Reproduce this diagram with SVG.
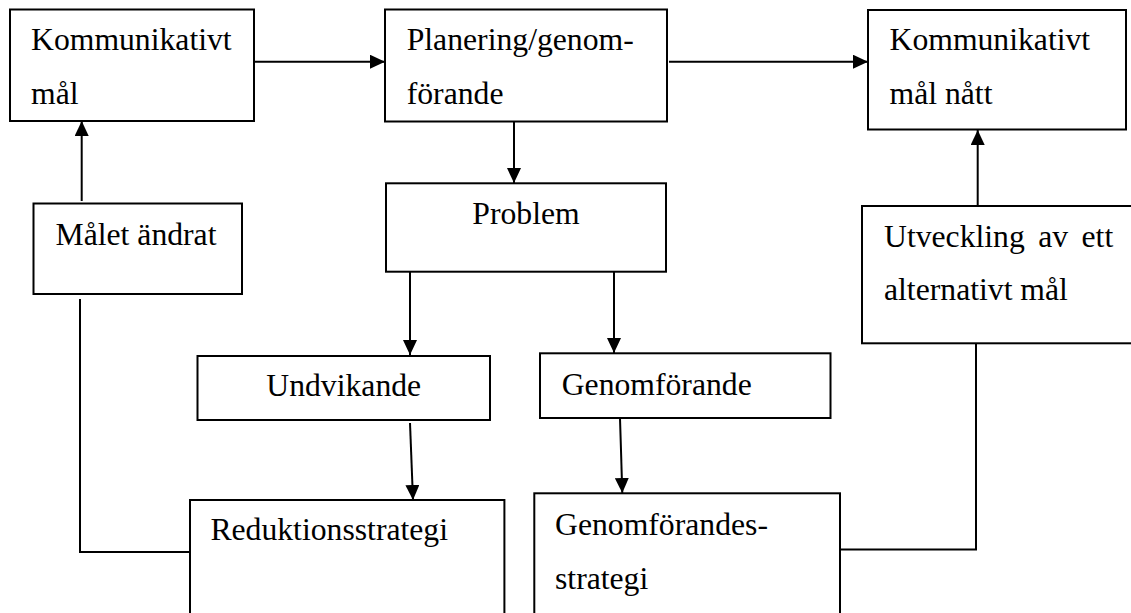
<svg xmlns="http://www.w3.org/2000/svg" width="1131" height="613" viewBox="0 0 1131 613">
<style>
.box{fill:#fff;stroke:#000;stroke-width:2}
.t{font-family:"Liberation Serif","Times New Roman",serif;font-size:31.7px;fill:#000}
.c{text-anchor:middle}
.ln{fill:none;stroke:#000;stroke-width:2}
.ar{marker-end:url(#ah)}
</style>
<defs>
<marker id="ah" markerUnits="userSpaceOnUse" markerWidth="15" markerHeight="14" refX="15" refY="7" orient="auto">
<path d="M0,0 L15,7 L0,14 z" fill="#000"/>
</marker>
</defs>
<rect width="1131" height="613" fill="#fff"/>
<g id="connectors">
<line class="ln ar" x1="254" y1="61.7" x2="385" y2="61.7"/>
<line class="ln ar" x1="669" y1="61.7" x2="868" y2="61.7"/>
<line class="ln ar" x1="514" y1="122" x2="514" y2="183"/>
<line class="ln ar" x1="81.7" y1="201" x2="81.7" y2="121"/>
<line class="ln ar" x1="977.7" y1="206" x2="977.7" y2="130"/>
<line class="ln ar" x1="410" y1="269" x2="410" y2="355"/>
<line class="ln ar" x1="614" y1="269" x2="614" y2="353"/>
<line class="ln ar" x1="410" y1="423" x2="413" y2="500"/>
<line class="ln ar" x1="620" y1="418" x2="622.3" y2="493"/>
<polyline class="ln" points="190,552 80,552 80,299"/>
<polyline class="ln" points="840,549.5 976,549.5 976,343"/>
</g>
<g id="n1"><rect class="box" x="10" y="9.5" width="244" height="111.5"/>
<text class="t" x="31" y="50">Kommunikativt</text><text class="t" x="31" y="104">mål</text></g>
<g id="n2"><rect class="box" x="385" y="9.5" width="282" height="112"/>
<text class="t" x="406.7" y="50">Planering/genom-</text><text class="t" x="406.7" y="104">förande</text></g>
<g id="n3"><rect class="box" x="868" y="10" width="258" height="119.5"/>
<text class="t" x="889.5" y="50">Kommunikativt</text><text class="t" x="889.5" y="104">mål nått</text></g>
<g id="n4"><rect class="box" x="33.5" y="203.5" width="208.5" height="90.5"/>
<text class="t c" x="136" y="245">Målet ändrat</text></g>
<g id="n5"><rect class="box" x="386" y="183.3" width="280" height="88.4"/>
<text class="t c" x="526" y="223.5">Problem</text></g>
<g id="n6"><rect class="box" x="862" y="206" width="280" height="137.3"/>
<text class="t" x="884" y="246.5" word-spacing="5.5">Utveckling av ett</text><text class="t" x="884" y="300">alternativt mål</text></g>
<g id="n7"><rect class="box" x="197.5" y="356" width="292.5" height="64"/>
<text class="t c" x="343.7" y="396">Undvikande</text></g>
<g id="n8"><rect class="box" x="540" y="353.3" width="290.5" height="64.7"/>
<text class="t" x="561.7" y="395">Genomförande</text></g>
<g id="n9"><rect class="box" x="190" y="500" width="314.4" height="130"/>
<text class="t" x="210.4" y="540">Reduktionsstrategi</text></g>
<g id="n10"><rect class="box" x="534.3" y="493.3" width="305.7" height="140"/>
<text class="t" x="555" y="534.5">Genomförandes-</text><text class="t" x="555" y="589">strategi</text></g>
</svg>
